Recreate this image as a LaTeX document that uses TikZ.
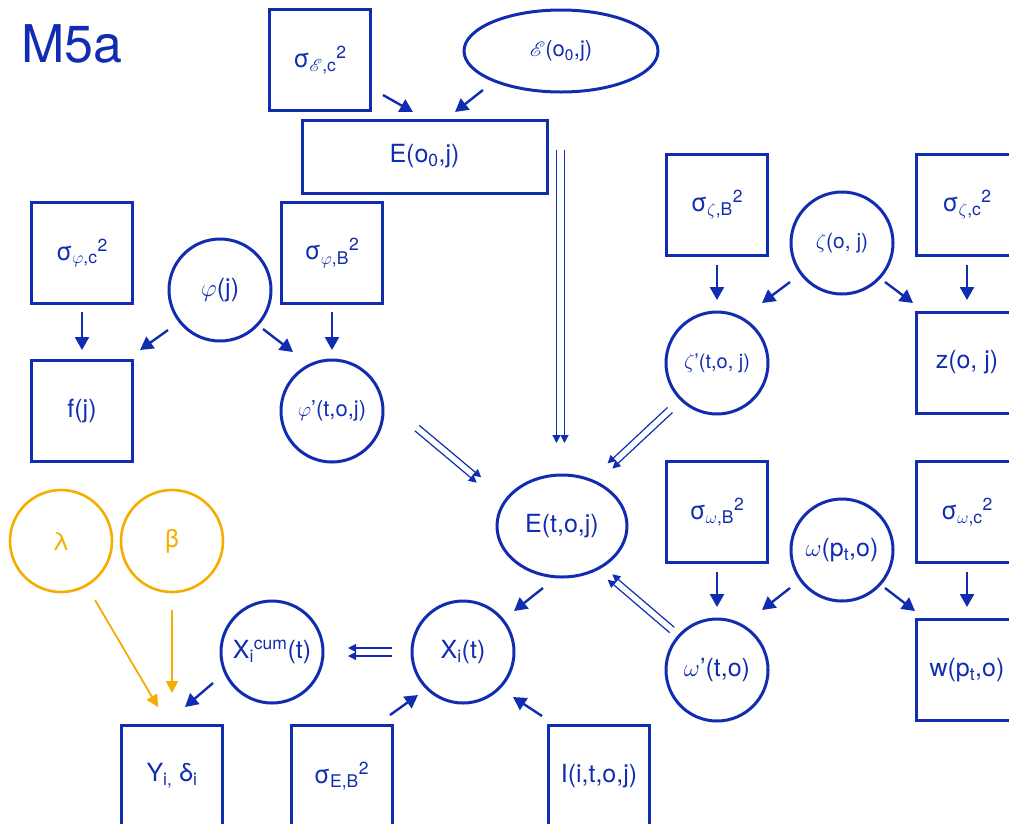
\documentclass[tikz,border=0pt]{standalone}
\usepackage{fontspec}
\setmainfont{TeX Gyre Heros}
\usepackage{mathrsfs}
\usetikzlibrary{arrows.meta,calc,shapes.geometric}
\definecolor{mblue}{RGB}{16,44,176}
\definecolor{morange}{RGB}{247,172,0}
\begin{document}
\begin{tikzpicture}[x=1pt,y=-1pt,
  every node/.style={font=\fontsize{25}{29}\selectfont, text=mblue, inner sep=0pt},
  box/.style={draw=mblue, line width=3pt, minimum width=101pt, minimum height=101pt},
  circ/.style={draw=mblue, circle, line width=3pt, minimum size=102pt},
  ocirc/.style={circ, draw=morange, text=morange, line width=2.6pt},
  oval/.style={draw=mblue, ellipse, line width=3pt},
  arr/.style={draw=mblue, line width=2.4pt, -{Triangle[length=13pt,width=14pt]}},
  oarr/.style={draw=morange, line width=1.8pt, -{Triangle[length=12pt,width=12pt]}},
  dbl/.style={draw=mblue, line width=1.2pt, -{Triangle[length=8pt,width=8pt]}},
  small/.style={font=\fontsize{20}{24}\selectfont},
]
\useasboundingbox (0,0) rectangle (1009,823);
\clip (0,0) rectangle (1009,823);

% title
\node[anchor=base west, font=\fontsize{52}{60}\selectfont] (title) at (21,62) {M5a};

% top group
\node[box] (sEc) at (320,60) {σ\textsubscript{$\mathscr{E}$,c}\textsuperscript{2}};
\node[oval, minimum width=194pt, minimum height=82pt, font=\fontsize{22}{26}\selectfont] (ell) at (561,51) {$\mathscr{E}$(o\textsubscript{0},j)};
\node[box, minimum width=245pt, minimum height=73pt] (Eo) at (424.5,156.5) {E(o\textsubscript{0},j)};

% phi group
\node[box] (sPc) at (82,253) {σ\textsubscript{$\varphi$,c}\textsuperscript{2}};
\node[circ] (phi) at (220,290) {$\varphi$(j)};
\node[box] (sPB) at (332,253) {σ\textsubscript{$\varphi$,B}\textsuperscript{2}};
\node[box] (f) at (82,411) {f(j)};
\node[circ, font=\fontsize{22}{26}\selectfont] (phip) at (332,411) {$\varphi$’(t,o,j)};

% zeta group
\node[box] (sZB) at (717,204.5) {σ\textsubscript{$\zeta$,B}\textsuperscript{2}};
\node[circ, font=\fontsize{21}{25}\selectfont] (zeta) at (842,243) {$\zeta$(o, j)};
\node[box] (sZc) at (967,204.5) {σ\textsubscript{$\zeta$,c}\textsuperscript{2}};
\node[circ, small] (zetap) at (717,363) {$\zeta$’(t,o, j)};
\node[box] (z) at (967,362.5) {z(o, j)};

% centre
\node[oval, minimum width=130pt, minimum height=102pt] (Etoj) at (562,526) {E(t,o,j)};

% omega group
\node[box] (sWB) at (717,512) {σ\textsubscript{$\omega$,B}\textsuperscript{2}};
\node[circ] (omega) at (842,550) {$\omega$(p\textsubscript{t},o)};
\node[box] (sWc) at (967,512) {σ\textsubscript{$\omega$,c}\textsuperscript{2}};
\node[circ] (omegap) at (717,670) {$\omega$’(t,o)};
\node[box] (w) at (967,670) {w(p\textsubscript{t},o)};

% bottom left
\node[ocirc] (lam) at (61,541) {λ};
\node[ocirc] (beta) at (172,541) {β};
\node[circ] (Xcum) at (272,652) {X\textsubscript{i}\textsuperscript{cum}(t)};
\node[circ] (Xi) at (463,652) {X\textsubscript{i}(t)};
\node[box] (Y) at (172,776) {Y\textsubscript{i,} δ\textsubscript{i}};
\node[box] (sEB) at (341.5,776) {σ\textsubscript{E,B}\textsuperscript{2}};
\node[box] (I) at (599,776) {I(i,t,o,j)};

% single arrows
\draw[arr] ($(sEc)+(63,35)$) -- ($(Eo)+(-11.5,-44.5)$);
\draw[arr] ($(ell)+(-78,39)$) -- ($(Eo)+(30.5,-44.5)$);
\draw[arr] ($(sPc)+(0,59)$) -- ($(f)+(0,-61)$);
\draw[arr] ($(phi)+(-52,40)$) -- ($(f)+(58,-61)$);
\draw[arr] ($(phi)+(43,39)$) -- ($(phip)+(-39,-59)$);
\draw[arr] ($(sPB)+(0,59)$) -- ($(phip)+(0,-61)$);
\draw[arr] ($(sZB)+(0,60.5)$) -- ($(zetap)+(0,-63)$);
\draw[arr] ($(zeta)+(-52,39)$) -- ($(zetap)+(45,-60)$);
\draw[arr] ($(zeta)+(43,39)$) -- ($(z)+(-54,-59.5)$);
\draw[arr] ($(sZc)+(0,60.5)$) -- ($(z)+(0,-62.5)$);
\draw[arr] ($(Etoj)+(-19,62)$) -- ($(Xi)+(51,-41)$);
\draw[arr] ($(sWB)+(0,60)$) -- ($(omegap)+(0,-63)$);
\draw[arr] ($(omega)+(-52,38)$) -- ($(omegap)+(45,-60)$);
\draw[arr] ($(omega)+(43,38)$) -- ($(w)+(-52,-59)$);
\draw[arr] ($(sWc)+(0,60)$) -- ($(w)+(0,-63)$);
\draw[arr] ($(Xcum)+(-59,31)$) -- ($(Y)+(13,-69)$);
\draw[arr] ($(sEB)+(48.5,-61)$) -- ($(Xi)+(-45,43)$);
\draw[arr] ($(I)+(-57,-60)$) -- ($(Xi)+(50,45)$);

% orange arrows
\draw[oarr] ($(lam)+(34,59)$) -- ($(Y)+(-14,-69)$);
\draw[oarr] ($(beta)+(0,69)$) -- ($(Y)+(0,-83)$);

% double arrows
\draw[dbl] ($(ell)+(-4.5,99)$) -- ($(Etoj)+(-5.5,-83)$);
\draw[dbl] ($(ell)+(3.5,99)$) -- ($(Etoj)+(2.5,-83)$);
\draw[dbl] ($(phip)+(82.75,19.7)$) -- ($(Etoj)+(-85.25,-43.3)$);
\draw[dbl] ($(phip)+(87.25,14.3)$) -- ($(Etoj)+(-80.75,-48.7)$);
\draw[dbl] ($(zetap)+(-44.6,49.6)$) -- ($(Etoj)+(50.4,-57.4)$);
\draw[dbl] ($(zetap)+(-49.4,44.4)$) -- ($(Etoj)+(45.6,-62.6)$);
\draw[dbl] ($(omegap)+(-42.7,-42.7)$) -- ($(Etoj)+(50.3,48.3)$);
\draw[dbl] ($(omegap)+(-47.3,-37.3)$) -- ($(Etoj)+(45.7,53.7)$);
\draw[dbl] ($(Xi)+(-71,-4)$) -- ($(Xcum)+(76,-4)$);
\draw[dbl] ($(Xi)+(-71,4)$) -- ($(Xcum)+(76,4)$);
\end{tikzpicture}
\end{document}
